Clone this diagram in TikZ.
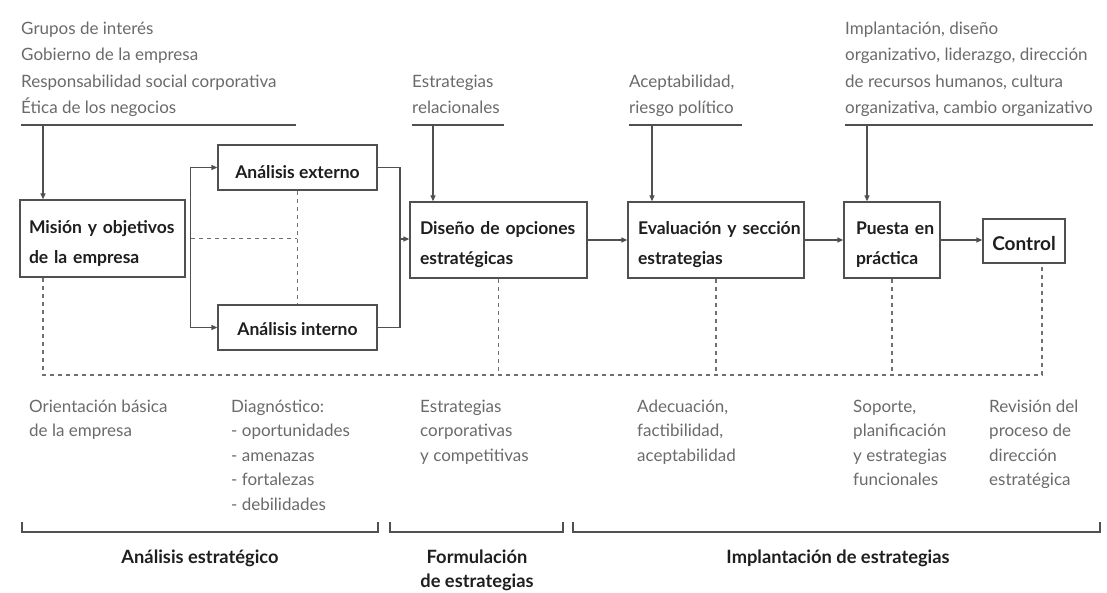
\documentclass[tikz,border=0pt]{standalone}
\usepackage{fontspec}
\setmainfont{Lato}
\usetikzlibrary{arrows.meta}
\definecolor{txtgray}{HTML}{6A6A6A}
\definecolor{linegray}{HTML}{505050}
\definecolor{dashgray}{HTML}{707070}
\definecolor{boldtxt}{HTML}{1E1E1E}
\begin{document}
\begin{tikzpicture}[x=1pt,y=-1pt,
  box/.style={draw=linegray, line width=1.3pt, fill=white, text=boldtxt,
    font=\bfseries\fontsize{17.5}{30}\selectfont, inner ysep=0pt, inner xsep=0pt,
    text height=15pt, text depth=0pt},
  lbox/.style={box, align=left, text height=22pt, text depth=32pt},
  desc/.style={text=txtgray, font=\fontsize{17}{26.5}\selectfont, align=left, inner sep=0pt, anchor=base west},
  bdesc/.style={text=txtgray, font=\fontsize{17}{24.5}\selectfont, align=left, inner sep=0pt, anchor=base west},
  phase/.style={text=boldtxt, font=\bfseries\fontsize{18.3}{24}\selectfont, align=center, inner sep=0pt, anchor=base},
  ln/.style={draw=linegray, line width=1.3pt},
  arr/.style={ln, -{Triangle[length=6pt,width=5pt]}},
  dsh/.style={draw=dashgray, line width=1.2pt, dash pattern=on 4.5pt off 3.5pt}
]
\useasboundingbox (0,0) rectangle (1107,593);

% boxes
\node[lbox, text width=147pt, inner xsep=9pt, minimum height=77pt] (mision) at (102.5,238.5)
  {\mbox{Misión y objetivos}\\\mbox{de la empresa}};
\node[box, minimum width=159pt, minimum height=45pt, text height=23pt] (ext) at (297.5,167.5) {Análisis externo};
\node[box, minimum width=159pt, minimum height=45pt] (int) at (297.5,327.5) {Análisis interno};
\node[lbox, text width=157pt, inner xsep=10pt, minimum height=76pt] (diseno) at (498.5,240)
  {\mbox{Diseño de opciones}\\\mbox{estratégicas}};
\node[lbox, text width=156pt, inner xsep=10pt, minimum height=76pt] (eval) at (716,240)
  {\mbox{Evaluación y sección}\\\mbox{estrategias}};
\node[lbox, text width=72pt, inner xsep=12pt, minimum height=76pt] (puesta) at (892,240)
  {\mbox{Puesta en}\\\mbox{práctica}};
\node[box, minimum width=82pt, minimum height=44pt, text height=20pt,
  font=\bfseries\fontsize{19}{30}\selectfont] (control) at (1024,241) {Control};

% top descriptions (base = last line)
\node[desc] (t1) at (21,114) {Grupos de interés\\Gobierno de la empresa\\Responsabilidad social corporativa\\Ética de los negocios};
\node[desc] (t2) at (412,114) {Estrategias\\relacionales};
\node[desc] (t3) at (629,114) {Aceptabilidad,\\riesgo político};
\node[desc] (t4) at (845,114) {Implantación, diseño\\organizativo, liderazgo, dirección\\de recursos humanos, cultura\\organizativa, cambio organizativo};

% underlines and arrows from top
\coordinate (u1a) at (21,125); \coordinate (u1b) at (296,125); \coordinate (c1) at (43,125);
\coordinate (u2a) at (412,125); \coordinate (u2b) at (504,125); \coordinate (c2) at (433,125);
\coordinate (u3a) at (629,125); \coordinate (u3b) at (742,125); \coordinate (c3) at (652,125);
\coordinate (u4a) at (845,125); \coordinate (u4b) at (1093,125); \coordinate (c4) at (867,125);
\draw[ln] (u1a) -- (u1b);
\draw[ln] (u2a) -- (u2b);
\draw[ln] (u3a) -- (u3b);
\draw[ln] (u4a) -- (u4b);
\draw[arr] (c1) -- (c1 |- mision.north);
\draw[arr] (c2) -- (c2 |- diseno.north);
\draw[arr] (c3) -- (c3 |- eval.north);
\draw[arr] (c4) -- (c4 |- puesta.north);

% branch to analyses
\coordinate (br) at ([xshift=5pt]mision.east);
\draw[arr] (br) |- (ext.west);
\draw[arr] (br) |- (int.west);
\coordinate (j) at (400,239);
\draw[ln] (ext.east) -| (j) |- (int.east);
\draw[arr] (j) -- (j -| diseno.west);
\draw[arr] (diseno.east) -- (eval.west);
\draw[arr] (eval.east) -- (puesta.west);
\draw[arr] (puesta.east) -- (puesta.east -| control.west);

% dashed links
\coordinate (dm) at (297,238.5);
\draw[dsh] (br) -- (dm);
\draw[dsh] (ext.south) -- (int.north);
\coordinate (d1) at (43,375);
\coordinate (d2) at (1042,375);
\draw[dsh] (mision.south -| d1) -- (d1) -- (d2) -- (control.south -| d2);
\draw[dsh] (diseno.south) -- (diseno.south |- d1);
\draw[dsh] (eval.south) -- (eval.south |- d1);
\draw[dsh] (puesta.south) -- (puesta.south |- d1);

% bottom descriptions (base = last line; first baseline 412)
\node[bdesc] (b1) at (29,436.5) {Orientación básica\\de la empresa};
\node[bdesc] (b2) at (231,510) {Diagnóstico:\\- oportunidades\\- amenazas\\- fortalezas\\- debilidades};
\node[bdesc] (b3) at (420,461) {Estrategias\\corporativas\\y competitivas};
\node[bdesc] (b4) at (637,461) {Adecuación,\\factibilidad,\\aceptabilidad};
\node[bdesc] (b5) at (853,485.5) {Soporte,\\planificación\\y estrategias\\funcionales};
\node[bdesc] (b6) at (989,485.5) {Revisión del\\proceso de\\dirección\\estratégica};

% brackets
\draw[ln] (22,522) -- (22,532) -- (378,532) -- (378,522);
\draw[ln] (390,522) -- (390,532) -- (563,532) -- (563,522);
\draw[ln] (573,522) -- (573,532) -- (1100,532) -- (1100,522);

% phase labels
\node[phase] (p1) at (200,563) {Análisis estratégico};
\node[phase] (p2) at (477,587) {Formulación\\de estrategias};
\node[phase] (p3) at (838,563) {Implantación de estrategias};
\end{tikzpicture}
\end{document}
